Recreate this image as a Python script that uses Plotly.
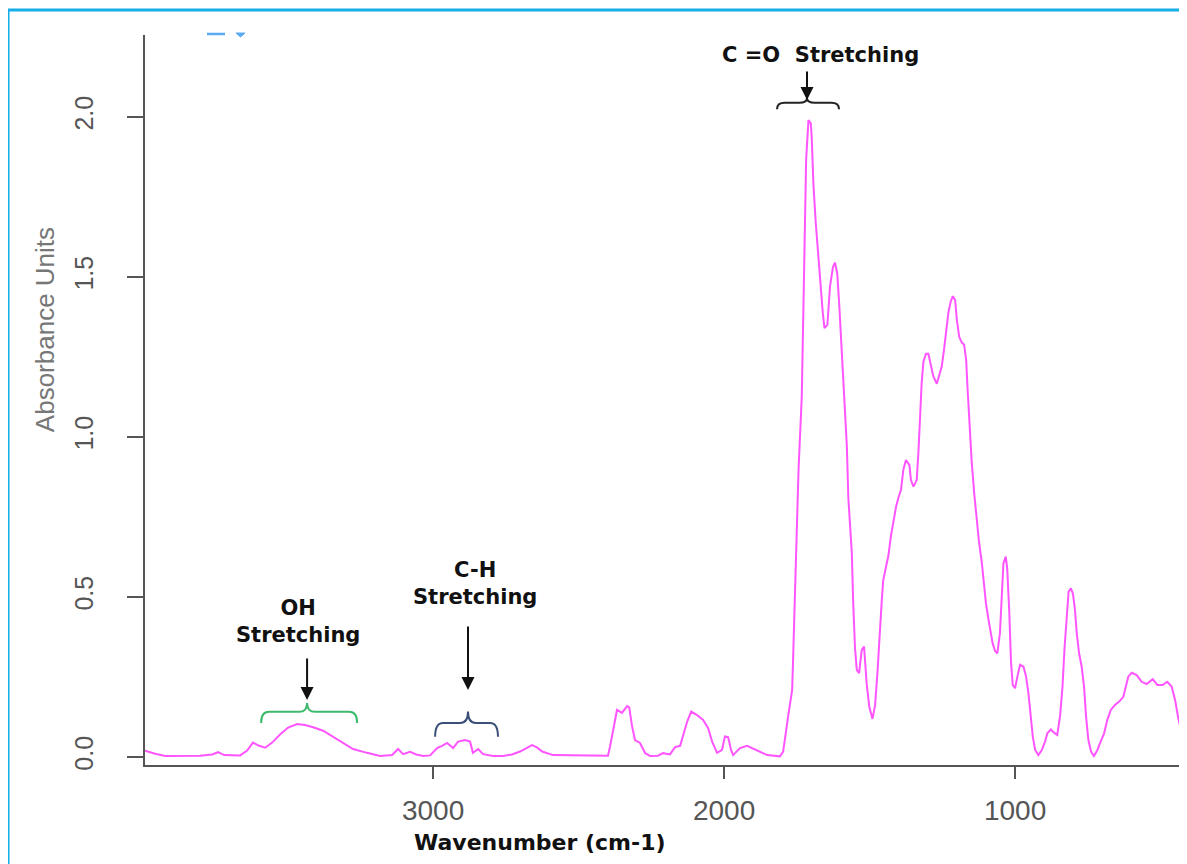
import plotly.graph_objects as go

# ---- spectrum data (wavenumber cm-1, absorbance) ----
wavenumber = [
    3990, 3955, 3921, 3869, 3801, 3759, 3739, 3718, 3680, 3663, 3639, 3619, 3598, 3577,
    3553, 3526, 3498, 3467, 3440, 3412, 3378, 3347, 3320, 3275, 3227, 3182, 3141, 3120,
    3103, 3079, 3058, 3034, 3010, 2986, 2969, 2952, 2931, 2914, 2890, 2873, 2863, 2845,
    2828, 2794, 2759, 2729, 2701, 2680, 2660, 2643, 2625, 2588, 2529, 2478, 2426, 2399,
    2392, 2381, 2368, 2351, 2333, 2326, 2316, 2306, 2289, 2271, 2254, 2227, 2210, 2186,
    2168, 2151, 2141, 2127, 2113, 2093, 2072, 2055, 2041, 2024, 2007, 1997, 1986, 1976,
    1969, 1945, 1921, 1887, 1852, 1808, 1797, 1780, 1766, 1763, 1754, 1744, 1733, 1725,
    1718, 1710, 1702, 1699, 1693, 1685, 1676, 1668, 1661, 1655, 1645, 1636, 1626, 1619,
    1611, 1604, 1596, 1588, 1578, 1573, 1561, 1556, 1550, 1544, 1536, 1527, 1519, 1510,
    1501, 1490, 1481, 1473, 1466, 1458, 1453, 1443, 1435, 1427, 1418, 1409, 1401, 1392,
    1384, 1375, 1363, 1358, 1349, 1338, 1332, 1326, 1321, 1315, 1306, 1298, 1290, 1281,
    1269, 1261, 1252, 1244, 1237, 1229, 1221, 1214, 1206, 1200, 1192, 1183, 1175, 1168,
    1163, 1157, 1149, 1140, 1132, 1124, 1114, 1107, 1100, 1092, 1084, 1077, 1069, 1061,
    1052, 1046, 1040, 1032, 1027, 1020, 1014, 1008, 1000, 992, 983, 971, 962, 954,
    946, 939, 931, 920, 908, 897, 889, 877, 866, 855, 845, 837, 830, 822,
    816, 808, 801, 794, 788, 780, 771, 763, 756, 748, 739, 729, 717, 706,
    694, 683, 671, 656, 642, 628, 619, 611, 599, 582, 565, 548, 527, 511,
    493, 477, 462, 450, 439, 427, 416,
]
absorbance = [
    0.020, 0.010, 0.003, 0.003, 0.004, 0.008, 0.015, 0.006, 0.004, 0.005, 0.020, 0.045, 0.035, 0.029,
    0.045, 0.070, 0.092, 0.103, 0.100, 0.093, 0.082, 0.065, 0.048, 0.025, 0.013, 0.003, 0.006, 0.025,
    0.009, 0.016, 0.008, 0.003, 0.005, 0.028, 0.035, 0.044, 0.028, 0.048, 0.053, 0.048, 0.013, 0.025,
    0.009, 0.003, 0.003, 0.008, 0.017, 0.028, 0.037, 0.030, 0.017, 0.006, 0.005, 0.004, 0.003, 0.004,
    0.032, 0.090, 0.147, 0.138, 0.159, 0.155, 0.095, 0.053, 0.044, 0.012, 0.003, 0.004, 0.012, 0.008,
    0.031, 0.035, 0.064, 0.110, 0.142, 0.131, 0.116, 0.091, 0.048, 0.013, 0.022, 0.064, 0.062, 0.022,
    0.006, 0.028, 0.035, 0.020, 0.006, 0.002, 0.017, 0.126, 0.210, 0.300, 0.600, 0.900, 1.126, 1.544,
    1.866, 1.990, 1.980, 1.940, 1.790, 1.670, 1.560, 1.475, 1.390, 1.340, 1.350, 1.470, 1.530, 1.545,
    1.510, 1.410, 1.280, 1.130, 0.970, 0.810, 0.637, 0.475, 0.340, 0.272, 0.262, 0.334, 0.345, 0.230,
    0.157, 0.119, 0.162, 0.262, 0.387, 0.490, 0.553, 0.600, 0.631, 0.688, 0.740, 0.782, 0.810, 0.834,
    0.897, 0.928, 0.912, 0.866, 0.845, 0.866, 0.954, 1.074, 1.168, 1.235, 1.260, 1.260, 1.225, 1.190,
    1.166, 1.190, 1.220, 1.274, 1.330, 1.390, 1.423, 1.440, 1.428, 1.366, 1.313, 1.295, 1.288, 1.240,
    1.147, 1.030, 0.923, 0.820, 0.746, 0.673, 0.605, 0.537, 0.480, 0.433, 0.397, 0.355, 0.332, 0.324,
    0.387, 0.510, 0.605, 0.626, 0.590, 0.455, 0.298, 0.225, 0.215, 0.251, 0.288, 0.282, 0.251, 0.199,
    0.131, 0.063, 0.022, 0.006, 0.022, 0.048, 0.074, 0.086, 0.076, 0.069, 0.131, 0.220, 0.340, 0.449,
    0.517, 0.527, 0.510, 0.459, 0.387, 0.324, 0.282, 0.220, 0.126, 0.053, 0.017, 0.003, 0.022, 0.048,
    0.074, 0.116, 0.147, 0.163, 0.173, 0.188, 0.220, 0.251, 0.263, 0.256, 0.235, 0.228, 0.243, 0.225,
    0.225, 0.235, 0.220, 0.178, 0.121, 0.074, 0.074,
]

x_ticks = [3000, 2000, 1000]
y_ticks = [0.0, 0.5, 1.0, 1.5, 2.0]
y_tick_labels = ["0.0", "0.5", "1.0", "1.5", "2.0"]

# annotation groups: (label, text x, text y, arrow x, arrow tip y, tail offset px,
#                     brace left, brace right, brace bottom, brace bar, brace tip, colour)
groups = [
    ("OH<br>Stretching", 3464, 0.422, 3433, 0.178, -43, 3591, 3261, 0.106, 0.141, 0.169, "#3cb96c"),
    ("C-H<br>Stretching", 2856, 0.541, 2880, 0.209, -65, 2993, 2777, 0.063, 0.106, 0.142, "#3b5079"),
    ("C =O  Stretching", 1670, 2.194, 1715, 2.053, -30, 1818, 1605, 2.024, 2.044, 2.059, "#222222"),
]

fig = go.Figure()
fig.add_trace(go.Scatter(
    x=wavenumber, y=absorbance, mode="lines",
    line=dict(color="#ff55ff", width=2), showlegend=False, hoverinfo="skip",
))


def brace_path(xl, xr, yb, ybar, ytip, xc, dx=27.0):
    s = 1 if xr > xl else -1
    d = dx * s
    return (f"M {xl},{yb} Q {xl},{ybar} {xl + d},{ybar} L {xc - d},{ybar} "
            f"Q {xc},{ybar} {xc},{ytip} Q {xc},{ybar} {xc + d},{ybar} "
            f"L {xr - d},{ybar} Q {xr},{ybar} {xr},{yb}")


shapes = []
annotations = []
for (label, tx, ty, axx, tipy, off, bl, br, bb, bbar, btip, col) in groups:
    xc = axx
    shapes.append(dict(type="path", xref="x", yref="y",
                       path=brace_path(bl, br, bb, bbar, btip, xc),
                       line=dict(color=col, width=2)))
    annotations.append(dict(x=tx, y=ty, xref="x", yref="y", text=f"<b>{label}</b>",
                            showarrow=False, xanchor="center", yanchor="middle",
                            font=dict(family="DejaVu Sans", size=21, color="#111111")))
    annotations.append(dict(x=axx, y=tipy, xref="x", yref="y", text="", showarrow=True,
                            ax=0, ay=off, arrowhead=2, arrowsize=1.3, arrowwidth=2,
                            arrowcolor="#111111"))

# axis titles
annotations.append(dict(x=-0.0962, y=0.597, xref="paper", yref="paper",
                        text="Absorbance Units", textangle=-90, showarrow=False,
                        xanchor="center", yanchor="middle",
                        font=dict(family="Liberation Sans", size=26, color="#777777")))
annotations.append(dict(x=0.3798, y=-0.1068, xref="paper", yref="paper",
                        text="<b>Wavenumber (cm-1)</b>", showarrow=False,
                        xanchor="center", yanchor="middle",
                        font=dict(family="DejaVu Sans", size=22, color="#111111")))

# outer cyan frame
shapes.append(dict(type="rect", xref="paper", yref="paper", x0=-0.1317, x1=1.0005,
                   y0=-0.16, y1=1.0342, line=dict(color="#14aee8", width=3)))
# small blue mark at top-left
shapes.append(dict(type="line", xref="paper", yref="paper", x0=0.0596, x1=0.0769,
                   y0=1.0014, y1=1.0014, line=dict(color="#5aaaf2", width=2.5)))
shapes.append(dict(type="path", xref="paper", yref="paper",
                   path="M 0.0875,1.0027 L 0.0962,1.0027 L 0.0918,0.9973 Z",
                   fillcolor="#5aaaf2", line=dict(color="#5aaaf2", width=1)))

# the page body adds an 8px offset, so the figure is sized to fit the window
fig.update_layout(
    width=1179, height=856,
    margin=dict(l=137, r=2, t=27, b=99),
    paper_bgcolor="white", plot_bgcolor="white",
    shapes=shapes, annotations=annotations,
    xaxis=dict(range=[3990, 416], tickvals=x_ticks, ticktext=[str(v) for v in x_ticks],
               showgrid=False, zeroline=False, showline=True, linecolor="#555555",
               linewidth=2, ticks="outside", ticklen=12, tickwidth=2, tickcolor="#555555",
               tickfont=dict(family="Liberation Sans", size=28, color="#555555"),
               ticklabelstandoff=7),
    yaxis=dict(range=[-0.025, 2.256], tickvals=y_ticks, ticktext=y_tick_labels,
               tickangle=-90, showgrid=False, zeroline=False, showline=True,
               linecolor="#555555", linewidth=2, ticks="outside", ticklen=16, tickwidth=2,
               tickcolor="#555555",
               tickfont=dict(family="Liberation Sans", size=25, color="#555555"),
               ticklabelstandoff=24),
)

fig.write_html("out.html")
